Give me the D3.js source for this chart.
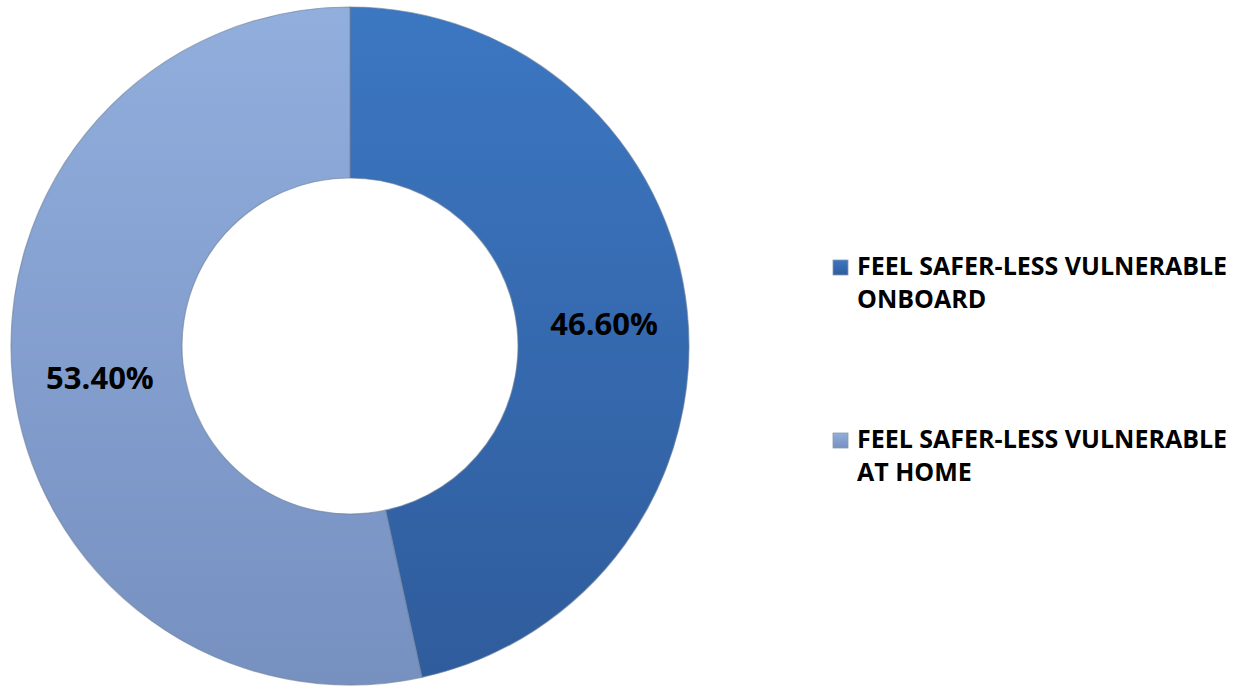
<!DOCTYPE html>
<html>
<head>
<meta charset="utf-8">
<script src="https://cdn.jsdelivr.net/npm/d3@7"></script>
<style>
  body { margin: 0; background: #fff; }
  text { font-family: "Open Sans", "Noto Sans", sans-serif; font-weight: 700; }
</style>
</head>
<body>
<div id="chart"></div>
<script>
var width = 1243,
    height = 690;

// data
var categories = ["FEEL SAFER-LESS VULNERABLE ONBOARD", "FEEL SAFER-LESS VULNERABLE AT HOME"];
var legendLines = [["FEEL SAFER-LESS VULNERABLE", "ONBOARD"], ["FEEL SAFER-LESS VULNERABLE", "AT HOME"]];
var values = [46.6, 53.4];
var valueLabels = ["46.60%", "53.40%"];

var cx = 350, cy = 346,
    outerR = 339, innerR = 168;

var svg = d3.select("#chart").append("svg")
    .attr("width", width)
    .attr("height", height);

var defs = svg.append("defs");
var grads = [["#3c77c2", "#2f5c9c"], ["#91aedd", "#7690c0"]];
grads.forEach(function (g, i) {
  var lg = defs.append("linearGradient")
      .attr("id", "grad" + i)
      .attr("x1", 0).attr("y1", 0).attr("x2", 0).attr("y2", 1);
  lg.append("stop").attr("offset", "0%").attr("stop-color", g[0]);
  lg.append("stop").attr("offset", "100%").attr("stop-color", g[1]);
});

var pie = d3.pie().sort(null).value(function (d) { return d; });
var arc = d3.arc().innerRadius(innerR).outerRadius(outerR);
var labelArc = d3.arc().innerRadius((innerR + outerR) / 2).outerRadius((innerR + outerR) / 2);

var g = svg.append("g").attr("transform", "translate(" + cx + "," + cy + ")");

var arcs = pie(values);

g.selectAll("path.slice")
    .data(arcs)
    .enter()
    .append("path")
    .attr("class", "slice")
    .attr("d", arc)
    .attr("fill", function (d, i) { return "url(#grad" + i + ")"; })
    .attr("stroke", "#6d7f99")
    .attr("stroke-opacity", 0.6)
    .attr("stroke-width", 1.2);

g.selectAll("text.val")
    .data(arcs)
    .enter()
    .append("text")
    .attr("class", "val")
    .attr("transform", function (d) {
      var c = labelArc.centroid(d);
      return "translate(" + (c[0] + 2) + "," + (c[1] + 5) + ")";
    })
    .attr("text-anchor", "middle")
    .attr("dy", "0.35em")
    .attr("font-size", 31)
    .attr("fill", "#000")
    .text(function (d, i) { return valueLabels[i]; });

var legend = svg.append("g");
var legendY = [260, 433];
legendLines.forEach(function (lines, i) {
  var item = legend.append("g").attr("transform", "translate(833," + legendY[i] + ")");
  item.append("rect")
      .attr("width", 15).attr("height", 15)
      .attr("fill", "url(#grad" + i + ")")
      .attr("stroke", "#8a9ab0").attr("stroke-width", 0.8);
  lines.forEach(function (t, j) {
    item.append("text")
        .attr("x", 24)
        .attr("y", 15 + j * 33)
        .attr("font-size", 25)
        .attr("fill", "#000")
        .text(t);
  });
});
</script>
</body>
</html>
